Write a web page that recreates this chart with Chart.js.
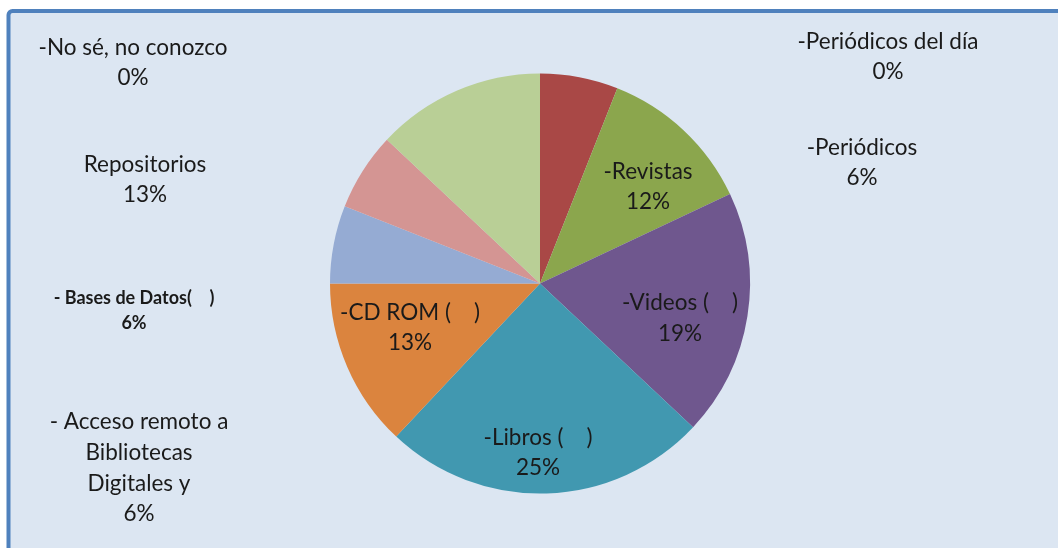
<!DOCTYPE html>
<html>
<head>
<meta charset="utf-8">
<script src="https://cdn.jsdelivr.net/npm/chart.js@4.4.1/dist/chart.umd.min.js"></script>
<style>
  html, body { margin: 0; padding: 0; background: #fff; }
  #wrap { width: 1058px; height: 548px; position: relative; }
</style>
</head>
<body>
<div id="wrap"><canvas id="pieCanvas"></canvas></div>
<script>
// recursos que usan los estudiantes
var fuentes = ['-Periódicos del día', '-Periódicos', '-Revistas', '-Videos (    )', '-Libros (    )',
  '-CD ROM (    )', '- Acceso remoto a Bibliotecas Digitales y', '- Bases de Datos(    )',
  'Repositorios', '-No sé, no conozco'];
var porcentajes = [0, 6, 12, 19, 25, 13, 6, 6, 13, 0];
var colores = ['#4f81bd', '#a94846', '#8ba64d', '#6f578e', '#4198b0', '#db843e',
  '#95abd3', '#d49593', '#b9cf96', '#a99bbd'];

// lineas de cada etiqueta y donde va
var etiquetas = [
  { lineas: ['-Periódicos del día'], x: 888, y: 42, dy: 30 },
  { lineas: ['-Periódicos'], x: 862, y: 148, dy: 30 },
  { lineas: ['-Revistas'], x: 648, y: 172, dy: 30 },
  { lineas: ['-Videos (    )'], x: 680, y: 303, dy: 31 },
  { lineas: ['-Libros (    )'], x: 538, y: 438, dy: 30 },
  { lineas: ['-CD ROM (    )'], x: 410, y: 313, dy: 30 },
  { lineas: ['- Acceso remoto a', 'Bibliotecas', 'Digitales y'], x: 139, y: 422, dy: 30.7 },
  { lineas: ['- Bases de Datos(    )'], x: 134, y: 298, dy: 25, bold: true },
  { lineas: ['Repositorios'], x: 145, y: 165, dy: 30 },
  { lineas: ['-No sé, no conozco'], x: 133, y: 48, dy: 30 }
];

var fondo = {
  id: 'fondo',
  beforeDraw: function(chart) {
    var ctx = chart.ctx;
    ctx.save();
    ctx.fillStyle = '#ffffff';
    ctx.fillRect(0, 0, chart.width, chart.height);
    ctx.fillStyle = '#dce6f2';
    ctx.fillRect(8, 11, chart.width, chart.height);
    ctx.strokeStyle = '#4f81bd';
    ctx.lineWidth = 4;
    ctx.beginPath();
    ctx.moveTo(8.5, chart.height + 5);
    ctx.lineTo(8.5, 15);
    ctx.arcTo(8.5, 11, 12.5, 11, 4);
    ctx.lineTo(chart.width + 5, 11);
    ctx.stroke();
    ctx.restore();
  }
};

var textos = {
  id: 'textos',
  afterDraw: function(chart) {
    var ctx = chart.ctx;
    ctx.save();
    ctx.fillStyle = '#1a1a1a';
    ctx.textAlign = 'center';
    ctx.textBaseline = 'middle';
    etiquetas.forEach(function(e, i) {
      ctx.font = e.bold ? 'bold 18px Lato' : '22.5px Lato';
      var lineas = e.lineas.concat([porcentajes[i] + '%']);
      lineas.forEach(function(t, j) {
        ctx.fillText(t, e.x, e.y + j * e.dy);
      });
    });
    ctx.restore();
  }
};

new Chart(document.getElementById('pieCanvas'), {
  type: 'pie',
  data: {
    labels: fuentes,
    datasets: [{
      data: porcentajes,
      backgroundColor: colores,
      borderWidth: 0
    }]
  },
  options: {
    responsive: true,
    maintainAspectRatio: false,
    animation: false,
    layout: { padding: { left: 330, right: 308, top: 73.5, bottom: 54.5 } },
    plugins: {
      legend: { display: false },
      tooltip: { enabled: false }
    }
  },
  plugins: [fondo, textos]
});
</script>
</body>
</html>
